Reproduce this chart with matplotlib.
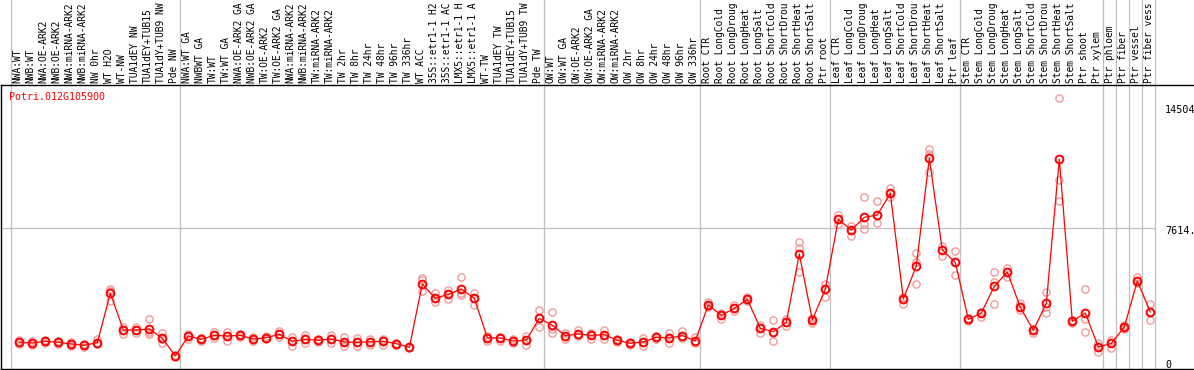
import numpy as np
import matplotlib.pyplot as plt

# ----------------------------
# Datos
# ----------------------------
gene_id = "Potri.012G105900"

# nombres tal como aparecen (cortados a 14 caracteres)
samples = [
    "NWA:WT", "NWB:WT", "NWA:OE-ARK2", "NWB:OE-ARK2", "NWA:miRNA-ARK2", "NWB:miRNA-ARK2",
    "NW 0hr", "WT H2O", "WT-NW", "TUA1dEY NW", "TUA1dEY+TUB15", "TUA1dY+TUB9 NW", "Pde NW",
    "NWA:WT GA", "NWBWT GA", "TW:WT", "TW:WT GA", "NWA:OE-ARK2 GA", "NWB:OE-ARK2 GA",
    "TW:OE-ARK2", "TW:OE-ARK2 GA", "NWA:miRNA-ARK2", "NWB:miRNA-ARK2", "TW:miRNA-ARK2",
    "TW:miRNA-ARK2", "TW 2hr", "TW 8hr", "TW 24hr", "TW 48hr", "TW 96hr", "TW 336hr",
    "WT ACC", "35S::etr1-1 H2", "35S::etr1-1 AC", "LMX5::etr1-1 H", "LMX5::etr1-1 A",
    "WT-TW", "TUA1dEY TW", "TUA1dEY+TUB15", "TUA1dY+TUB9 TW", "Pde TW",
    "OW:WT", "OW:WT GA", "OW:OE-ARK2", "OW:OE-ARK2 GA", "OW:miRNA-ARK2", "OW:miRNA-ARK2",
    "OW 2hr", "OW 8hr", "OW 24hr", "OW 48hr", "OW 96hr", "OW 336hr",
    "Root CTR", "Root LongCold", "Root LongDroug", "Root LongHeat", "Root LongSalt",
    "Root ShortCold", "Root ShortDrou", "Root ShortHeat", "Root ShortSalt", "Ptr root",
    "Leaf CTR", "Leaf LongCold", "Leaf LongDroug", "Leaf LongHeat", "Leaf LongSalt",
    "Leaf ShortCold", "Leaf ShortDrou", "Leaf ShortHeat", "Leaf ShortSalt", "Ptr leaf",
    "Stem CTR", "Stem LongCold", "Stem LongDroug", "Stem LongHeat", "Stem LongSalt",
    "Stem ShortCold", "Stem ShortDrou", "Stem ShortHeat", "Stem ShortSalt", "Ptr shoot",
    "Ptr xylem", "Ptr phloem", "Ptr fiber", "Ptr vessel", "Ptr fiber vess",
]

means = [
    1120, 1080, 1177, 1120, 1024, 950, 1100, 3907, 1820, 1820, 1877, 1347, 341,
    1479, 1290, 1517, 1479, 1517, 1308, 1384, 1574, 1176, 1290, 1233, 1308, 1138,
    1120, 1157, 1176, 1043, 834,
    4437, 3621, 3849, 4152, 3621, 1384, 1365, 1194, 1251, 2484,
    2086, 1498, 1593, 1517, 1555, 1233, 1062, 1138, 1403, 1365, 1498, 1213,
    3242, 2655, 3052, 3565, 1915, 1725, 2257, 6143, 2389, 4152,
    8115, 7508, 8229, 8361, 9594, 3583, 5460, 11585, 6370, 5669,
    2427, 2787, 4304, 5119, 3109, 1801, 3337, 11546, 2313, 2787,
    853, 1062, 1991, 4607, 2844,
]

replicates = [
    [1010, 1120, 1230], [960, 1080, 1190], [1080, 1177, 1270], [1030, 1120, 1210],
    [920, 1024, 1110], [850, 950, 1040], [1000, 1100, 1330], [4133, 4056, 3489],
    [2010, 1820, 1593], [1970, 1820, 1650], [2427, 1700, 1593], [1668, 1330, 1062],
    [300, 341, 380],
    [1593, 1479, 1327], [1384, 1290, 1213], [1725, 1517, 1346], [1725, 1479, 1213],
    [1593, 1517, 1403], [1441, 1308, 1213], [1479, 1384, 1289], [1782, 1574, 1403],
    [1403, 1176, 929], [1536, 1290, 1062], [1289, 1233, 1156], [1536, 1308, 1062],
    [1403, 1138, 910], [1346, 1120, 929], [1289, 1157, 967], [1289, 1176, 967],
    [1100, 1043, 967], [872, 834, 777],
    [4761, 4664, 4056], [3942, 3621, 3432], [4095, 3849, 3565], [4818, 3942, 3811],
    [3942, 3621, 3225], [1479, 1384, 1213], [1441, 1365, 1213], [1289, 1194, 1062],
    [1479, 1251, 967], [2958, 2484, 1974],
    [2827, 1858, 1631], [1631, 1498, 1289], [1820, 1593, 1479], [1668, 1517, 1327],
    [1820, 1555, 1289], [1327, 1233, 1138], [1138, 1062, 967], [1384, 1138, 910],
    [1479, 1403, 1289], [1631, 1365, 1100], [1782, 1498, 1384], [1441, 1213, 1100],
    [3432, 3242, 3147], [2768, 2655, 2465], [3242, 3052, 2920], [3678, 3565, 3489],
    [2105, 1915, 1631], [2389, 1725, 1213], [2465, 2257, 2048], [6807, 6503, 5100],
    [2484, 2389, 2199], [4437, 4152, 3716],
    [8361, 8115, 7849], [7755, 7508, 7186], [9366, 7849, 7546], [9158, 8361, 7925],
    [9916, 9594, 9366], [3678, 3583, 3280], [6200, 5707, 4437], [12115, 11831, 10788],
    [6617, 6370, 6048], [6295, 5669, 4930],
    [2484, 2427, 2351], [2863, 2787, 2560], [5100, 4569, 3280], [5328, 5119, 4816],
    [3337, 3109, 2958], [1896, 1801, 1668], [3982, 3110, 2806], [14997, 10352, 9177],
    [2389, 2313, 2237], [4133, 2427, 1688],
    [1062, 853, 588], [1251, 1062, 815], [2105, 1991, 1896], [4816, 4607, 4475],
    [3299, 2844, 2389],
]

# indices donde empieza un grupo nuevo (lineas grises verticales)
group_starts = [0, 13, 41, 53, 63, 73, 84, 85, 86, 87, 88]

y_ticks = [0, 7614, 14504]
y_tick_labels = ["0", "7614.", "14504"]

# ----------------------------
# Figura
# ----------------------------
W, H = 1194, 370
fig = plt.figure(figsize=(W / 100, H / 100), dpi=100)
ax = fig.add_axes([1 / W, 1 / H, 1193 / W, 284 / H])

x = np.arange(len(samples))
ax.set_xlim(-1.41, 90.36)
ax.set_ylim(-398, 15756)

light_red = "#f09a9a"
mono = "DejaVu Sans Mono"

# lineas grises verticales (suben hasta el borde de la figura)
for g in group_starts:
    ax.axvline(g - 0.62, ymin=0, ymax=1.31, color="#c0c0c0", lw=0.9,
               clip_on=False, zorder=0)

# linea gris horizontal en el valor medio
ax.plot([-1.41, 87.5 - 0.12], [y_ticks[1], y_ticks[1]], color="#c0c0c0",
        lw=0.9, zorder=0)

# replicas
for i, reps in enumerate(replicates):
    ax.plot([i] * len(reps), reps, "o", mfc="none", mec=light_red,
            ms=5.2, mew=1.0, zorder=2)

# medias
ax.plot(x, means, "-", color="red", lw=0.9, zorder=3)
ax.plot(x, means, "o", mfc="none", mec="red", ms=5.6, mew=1.4, zorder=4)

# etiquetas de muestras (arriba, verticales)
for i, name in enumerate(samples):
    ax.annotate(name, xy=(i - 0.14, 1.0), xycoords=("data", "axes fraction"),
                xytext=(0, 1.4), textcoords="offset points",
                rotation=90, ha="center", va="bottom",
                fontsize=6.95, family=mono, color="black", annotation_clip=False)

# nombre del gen
ax.text(8.3 / 1193, 1 - (96.7 - 85) / 284, gene_id, transform=ax.transAxes,
        ha="left", va="center", fontsize=7.2, family=mono, color="red")

# etiquetas del eje y a la derecha
for v, lab in zip(y_ticks, y_tick_labels):
    ax.annotate(lab, xy=(87.5, v), xytext=(6, -2), textcoords="offset points",
                ha="left", va="center", fontsize=7.3, family=mono,
                color="black", annotation_clip=False)

# estetica
ax.set_xticks([])
ax.set_yticks([])
ax.spines["right"].set_visible(False)
for s in ["left", "top", "bottom"]:
    ax.spines[s].set_linewidth(1.0)
    ax.spines[s].set_color("black")
ax.spines["top"].set_zorder(5)

fig.savefig("out.png", dpi=100)
plt.close(fig)
